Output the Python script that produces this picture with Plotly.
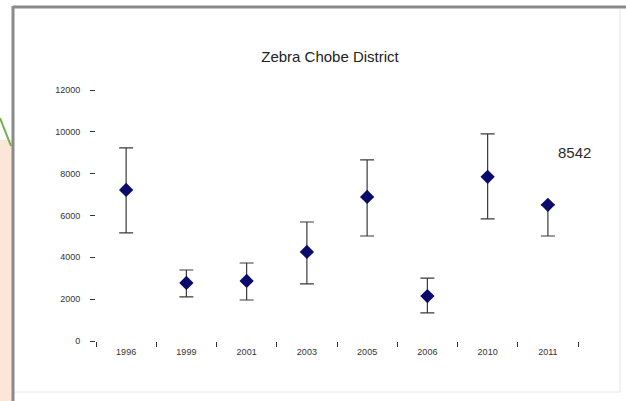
import plotly.graph_objects as go

# Zebra population estimates, Chobe District aerial surveys
years = ["1996", "1999", "2001", "2003", "2005", "2006", "2010", "2011"]
estimate = [7225, 2775, 2870, 4260, 6890, 2150, 7850, 6510]
err_plus = [2010, 620, 860, 1430, 1770, 860, 2050, 0]
err_minus = [2060, 670, 910, 1530, 1870, 810, 2010, 1490]
y_ticks = [0, 2000, 4000, 6000, 8000, 10000, 12000]
note_text = "8542"

W, H = 626, 401
L, R, T, B = 96, 578, 90, 341


def px(x):
    return (x - L) / (R - L)


def py(y):
    return (B - y) / (B - T)


fig = go.Figure()
fig.add_trace(go.Scatter(
    x=years, y=estimate, mode="markers",
    marker=dict(symbol="diamond", size=11, color="#0b0b6b"),
    error_y=dict(type="data", symmetric=False, array=err_plus,
                 arrayminus=err_minus, color="#3a3a3a", thickness=1.2, width=7),
    showlegend=False, cliponaxis=False,
))

shapes = [
    # slide background strip on the left
    dict(type="rect", xref="paper", yref="paper", x0=px(0), x1=px(12),
         y0=py(401), y1=py(140), fillcolor="#fbe6d8", line_width=0, layer="below"),
    dict(type="line", xref="paper", yref="paper", x0=px(0), x1=px(11),
         y0=py(118), y1=py(146), line=dict(color="#6fb04a", width=2)),
    # chart frame
    dict(type="line", xref="paper", yref="paper", x0=px(13), x1=px(626),
         y0=py(7), y1=py(7), line=dict(color="#8a8a8a", width=3)),
    dict(type="line", xref="paper", yref="paper", x0=px(13), x1=px(13),
         y0=py(6), y1=py(401), line=dict(color="#8a8a8a", width=3)),
    dict(type="line", xref="paper", yref="paper", x0=px(620), x1=px(620),
         y0=py(9), y1=py(392), line=dict(color="#e4e4e4", width=1)),
    dict(type="line", xref="paper", yref="paper", x0=px(15), x1=px(620),
         y0=py(392), y1=py(392), line=dict(color="#e8e8e8", width=1)),
]

fig.update_layout(
    width=W, height=H,
    margin=dict(l=L, r=W - R, t=T, b=H - B),
    paper_bgcolor="white", plot_bgcolor="white",
    font=dict(family="Liberation Sans, Arial, sans-serif", color="#333333"),
    title=dict(text="Zebra Chobe District", x=(330) / W, xanchor="center",
               y=1 - 57 / H, yanchor="middle",
               font=dict(size=15, color="#222222")),
    shapes=shapes,
    annotations=[dict(text=note_text, xref="paper", yref="paper",
                      x=px(574), y=py(152), xanchor="center", yanchor="middle",
                      showarrow=False, font=dict(size=15, color="#2a2a2a"))],
)
fig.update_xaxes(
    type="category", range=[-0.5, len(years) - 0.5],
    tickson="boundaries", ticks="outside", ticklen=5, tickcolor="#333",
    ticklabelstandoff=4,
    showline=False, showgrid=False, zeroline=False,
    tickfont=dict(size=9, color="#333"),
)
fig.update_yaxes(
    range=[0, 12000], tickvals=y_ticks, ticktext=[str(v) for v in y_ticks],
    ticks="outside", ticklen=5, tickcolor="#333", ticklabelstandoff=8,
    showline=False, showgrid=False, zeroline=False,
    tickfont=dict(size=9, color="#333"),
)

fig.write_html("out.html")
